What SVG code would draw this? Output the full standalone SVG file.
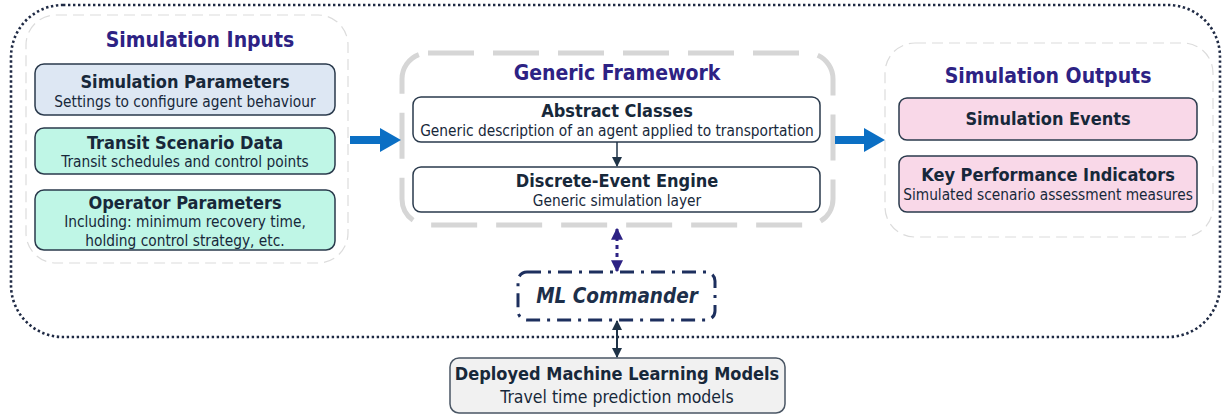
<svg xmlns="http://www.w3.org/2000/svg" width="1223" height="416" viewBox="0 0 1223 416">
  <defs>
    <style>
      text { font-family: "DejaVu Sans Condensed", "DejaVu Sans", Verdana, sans-serif; font-stretch: condensed; text-anchor: middle; fill: #17283a; }
      .panel-title { font-size: 21px; font-weight: bold; fill: #2d2284; }
      .box-title { font-size: 18px; font-weight: bold; }
      .box-sub { font-size: 15.3px; }
      .box { stroke: #2a3a4c; stroke-width: 1.5; }
      .panel { fill: none; stroke: #dcdcdc; stroke-width: 1.2; stroke-dasharray: 11 6; }
      .flow { stroke: #0b6fc4; stroke-width: 8; fill: none; }
    </style>
    <marker id="dark-head" viewBox="0 0 10 10" refX="9" refY="5" markerWidth="10" markerHeight="10" markerUnits="userSpaceOnUse" orient="auto-start-reverse">
      <path d="M0,0 L10,5 L0,10 Z" fill="#1f3347"/>
    </marker>
    <marker id="purple-head" viewBox="0 0 10 10" refX="9" refY="5" markerWidth="12" markerHeight="12" markerUnits="userSpaceOnUse" orient="auto-start-reverse">
      <path d="M0,0 L10,5 L0,10 Z" fill="#2d2284"/>
    </marker>
  </defs>

  <!-- outer dotted boundary -->
  <rect x="11" y="5" width="1209" height="332" rx="52" ry="52" fill="none" stroke="#1f2a44" stroke-width="2.6" stroke-dasharray="2.4 2.6"/>

  <!-- inputs panel -->
  <g id="simulation-inputs">
    <rect class="panel" x="26" y="15" width="322" height="248" rx="30"/>
    <text class="panel-title" x="200" y="47">Simulation Inputs</text>
  </g>
  <g id="simulation-parameters">
    <rect class="box" x="35" y="64" width="300" height="51" rx="9" fill="#dde7f3"/>
    <text class="box-title" x="185" y="88">Simulation Parameters</text>
    <text class="box-sub" x="185" y="107">Settings to configure agent behaviour</text>
  </g>
  <g id="transit-scenario-data">
    <rect class="box" x="35" y="128" width="300" height="46" rx="9" fill="#bff6e6"/>
    <text class="box-title" x="185" y="149">Transit Scenario Data</text>
    <text class="box-sub" x="185" y="167">Transit schedules and control points</text>
  </g>
  <g id="operator-parameters">
    <rect class="box" x="35" y="190" width="300" height="60" rx="9" fill="#bff6e6"/>
    <text class="box-title" x="185" y="209">Operator Parameters</text>
    <text class="box-sub" x="185" y="227">Including: minimum recovery time,</text>
    <text class="box-sub" x="185" y="246">holding control strategy, etc.</text>
  </g>

  <!-- generic framework panel -->
  <g id="generic-framework">
    <rect x="402" y="53" width="431" height="172" rx="26" fill="none" stroke="#d6d6d6" stroke-width="5" stroke-dasharray="46 19"/>
    <text class="panel-title" x="617" y="80">Generic Framework</text>
  </g>
  <g id="abstract-classes">
    <rect class="box" x="413" y="97" width="407" height="45" rx="8" fill="#ffffff"/>
    <text class="box-title" x="617" y="117">Abstract Classes</text>
    <text class="box-sub" x="617" y="136">Generic description of an agent applied to transportation</text>
  </g>
  <g id="discrete-event-engine">
    <rect class="box" x="413" y="167" width="407" height="45" rx="8" fill="#ffffff"/>
    <text class="box-title" x="617" y="187">Discrete-Event Engine</text>
    <text class="box-sub" x="617" y="206">Generic simulation layer</text>
  </g>

  <!-- outputs panel -->
  <g id="simulation-outputs">
    <rect class="panel" x="885" y="43" width="328" height="194" rx="30"/>
    <text class="panel-title" x="1048" y="83">Simulation Outputs</text>
  </g>
  <g id="simulation-events">
    <rect class="box" x="899" y="98" width="298" height="42" rx="8" fill="#f9d8e8"/>
    <text class="box-title" x="1048" y="125">Simulation Events</text>
  </g>
  <g id="key-performance-indicators">
    <rect class="box" x="899" y="156" width="298" height="56" rx="8" fill="#f9d8e8"/>
    <text class="box-title" x="1048" y="181">Key Performance Indicators</text>
    <text class="box-sub" x="1048" y="200">Simulated scenario assessment measures</text>
  </g>

  <!-- ML commander -->
  <g id="ml-commander">
    <rect x="518" y="272" width="197" height="48" rx="9" fill="#ffffff" stroke="#1d2f5e" stroke-width="3" stroke-dasharray="14 7 3 7"/>
    <text x="617" y="303" style="font-size:20.5px;font-weight:bold;font-style:italic;fill:#1d2f4a">ML Commander</text>
  </g>

  <!-- deployed models -->
  <g id="deployed-models">
    <rect x="450" y="358" width="335" height="55" rx="9" fill="#f1f1f1" stroke="#4a5664" stroke-width="1.5"/>
    <text class="box-title" x="617" y="380">Deployed Machine Learning Models</text>
    <text x="617" y="403" style="font-size:17.5px">Travel time prediction models</text>
  </g>

  <!-- connectors -->
  <g id="connectors">
    <line class="flow" x1="350" y1="140" x2="382" y2="140"/>
    <path d="M380,128 L401,140 L380,152 Z" fill="#0b6fc4"/>
    <line class="flow" x1="835" y1="140" x2="866" y2="140"/>
    <path d="M864,128 L885,140 L864,152 Z" fill="#0b6fc4"/>
    <line x1="617" y1="142" x2="617" y2="166" stroke="#1f3347" stroke-width="1.5" marker-end="url(#dark-head)"/>
    <line x1="617" y1="229" x2="617" y2="271" stroke="#2d2284" stroke-width="3" stroke-dasharray="4 4" marker-start="url(#purple-head)" marker-end="url(#purple-head)"/>
    <line x1="617" y1="321" x2="617" y2="357" stroke="#1f3347" stroke-width="2" marker-start="url(#dark-head)" marker-end="url(#dark-head)"/>
  </g>
</svg>
